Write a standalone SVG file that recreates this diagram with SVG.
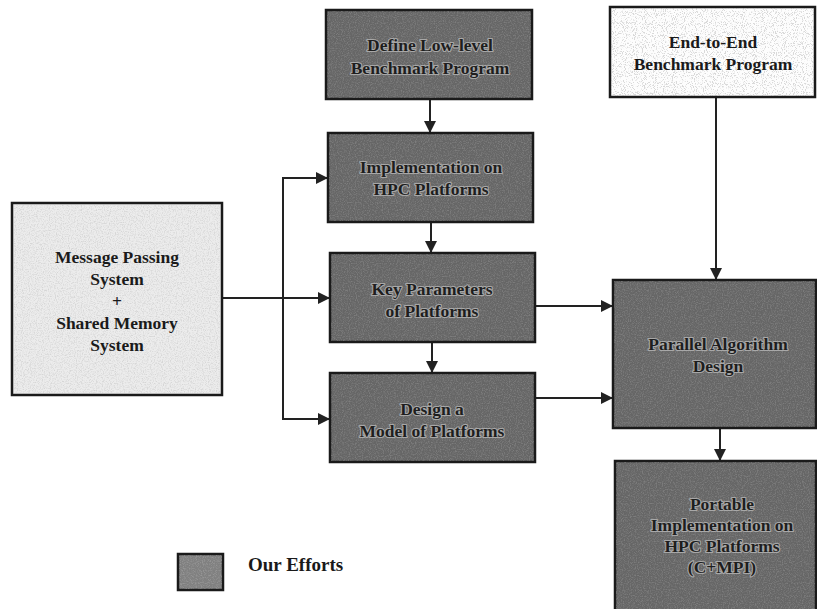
<svg xmlns="http://www.w3.org/2000/svg" width="817" height="609" viewBox="0 0 817 609">
  <style>
    .box { stroke: #1a1a1a; stroke-width: 2.5; }
    .dark { fill: #666; }
    .light { fill: #ececec; }
    .white { fill: #fdfdfd; }
    .grain { filter: url(#grain); }
    .lbl { font-family: "Liberation Serif", "Times New Roman", serif; font-weight: bold; font-size: 17.5px; text-anchor: middle; }
    .onDark { fill: #1e1e1e; stroke: #a8a8a8; stroke-width: 2.2; paint-order: stroke; stroke-linejoin: round; }
    .onLight { fill: #1a1a1a; }
    .wire { fill: none; stroke: #222; stroke-width: 2; }
  </style>
  <defs>
    <!-- mottled grain for the shaded boxes -->
    <filter id="grain" x="0" y="0" width="100%" height="100%">
      <feTurbulence type="fractalNoise" baseFrequency="0.85" numOctaves="2" seed="4" result="n"/>
      <feColorMatrix in="n" type="matrix" values="0 0 0 0 0  0 0 0 0 0  0 0 0 0 0  0 0 0 -3 1.7" result="a"/>
      <feComposite in="SourceGraphic" in2="a" operator="in"/>
    </filter>
    <!-- sparse specks for the plain box -->
    <filter id="speck" x="0" y="0" width="100%" height="100%">
      <feTurbulence type="fractalNoise" baseFrequency="1.1" numOctaves="1" seed="9" result="n"/>
      <feColorMatrix in="n" type="matrix" values="0 0 0 0 0  0 0 0 0 0  0 0 0 0 0  0 0 0 -9 4.2" result="a"/>
      <feComposite in="SourceGraphic" in2="a" operator="in"/>
    </filter>
    <marker id="arrow" viewBox="0 0 12 12" refX="11" refY="6" markerWidth="12" markerHeight="12" markerUnits="userSpaceOnUse" orient="auto">
      <path d="M0,0 L12,6 L0,12 Z" fill="#222"/>
    </marker>
  </defs>

  <!-- connectors -->
  <g id="connectors">
    <line class="wire" x1="430" y1="99" x2="430" y2="132" marker-end="url(#arrow)"/>
    <line class="wire" x1="431" y1="222" x2="431" y2="252" marker-end="url(#arrow)"/>
    <line class="wire" x1="432" y1="342" x2="432" y2="372" marker-end="url(#arrow)"/>
    <line class="wire" x1="223" y1="298" x2="329" y2="298" marker-end="url(#arrow)"/>
    <path class="wire" d="M283,178 L283,419 L329,419" marker-end="url(#arrow)"/>
    <line class="wire" x1="282" y1="178" x2="327" y2="178" marker-end="url(#arrow)"/>
    <line class="wire" x1="535" y1="306" x2="612" y2="306" marker-end="url(#arrow)"/>
    <line class="wire" x1="535" y1="398" x2="612" y2="398" marker-end="url(#arrow)"/>
    <line class="wire" x1="716" y1="97" x2="716" y2="279" marker-end="url(#arrow)"/>
    <line class="wire" x1="720" y1="428" x2="720" y2="460" marker-end="url(#arrow)"/>
  </g>

  <!-- Define Low-level Benchmark Program -->
  <g id="define-benchmark">
    <rect class="box dark" x="326" y="10" width="206" height="89"/>
    <rect class="grain" x="327" y="11" width="204" height="87" fill="#9a9a9a" opacity="0.45"/>
    <text class="lbl onDark" x="430" y="51">Define Low-level</text>
    <text class="lbl onDark" x="430" y="74">Benchmark Program</text>
  </g>

  <!-- Implementation on HPC Platforms -->
  <g id="implementation">
    <rect class="box dark" x="328" y="133" width="205" height="89"/>
    <rect class="grain" x="329" y="134" width="203" height="87" fill="#9a9a9a" opacity="0.45"/>
    <text class="lbl onDark" x="431" y="173">Implementation on</text>
    <text class="lbl onDark" x="431" y="195">HPC Platforms</text>
  </g>

  <!-- Key Parameters of Platforms -->
  <g id="key-parameters">
    <rect class="box dark" x="330" y="253" width="205" height="89"/>
    <rect class="grain" x="331" y="254" width="203" height="87" fill="#9a9a9a" opacity="0.45"/>
    <text class="lbl onDark" x="432" y="295">Key Parameters</text>
    <text class="lbl onDark" x="432" y="317">of Platforms</text>
  </g>

  <!-- Design a Model of Platforms -->
  <g id="design-model">
    <rect class="box dark" x="330" y="373" width="205" height="89"/>
    <rect class="grain" x="331" y="374" width="203" height="87" fill="#9a9a9a" opacity="0.45"/>
    <text class="lbl onDark" x="432" y="415">Design a</text>
    <text class="lbl onDark" x="432" y="437">Model of Platforms</text>
  </g>

  <!-- Message Passing + Shared Memory -->
  <g id="systems">
    <rect class="box light" x="12" y="203" width="210" height="192"/>
    <rect class="grain" x="13" y="204" width="208" height="190" fill="#b0b0b0" opacity="0.35"/>
    <text class="lbl onLight" x="117" y="263">Message Passing</text>
    <text class="lbl onLight" x="117" y="285">System</text>
    <text class="lbl onLight" x="117" y="307">+</text>
    <text class="lbl onLight" x="117" y="329">Shared Memory</text>
    <text class="lbl onLight" x="117" y="351">System</text>
  </g>

  <!-- End-to-End Benchmark Program -->
  <g id="end-to-end">
    <rect class="box white" x="610" y="7" width="205" height="90"/>
    <rect x="611" y="8" width="203" height="88" fill="#888" filter="url(#speck)" opacity="0.3"/>
    <text class="lbl onLight" x="713" y="48">End-to-End</text>
    <text class="lbl onLight" x="713" y="70">Benchmark Program</text>
  </g>

  <!-- Parallel Algorithm Design -->
  <g id="parallel-design">
    <rect class="box dark" x="613" y="280" width="203" height="148"/>
    <rect class="grain" x="614" y="281" width="201" height="146" fill="#9a9a9a" opacity="0.45"/>
    <text class="lbl onDark" x="718" y="350">Parallel Algorithm</text>
    <text class="lbl onDark" x="718" y="372">Design</text>
  </g>

  <!-- Portable Implementation -->
  <g id="portable">
    <rect class="box dark" x="615" y="461" width="201" height="150"/>
    <rect class="grain" x="616" y="462" width="199" height="147" fill="#9a9a9a" opacity="0.45"/>
    <text class="lbl onDark" x="722" y="510">Portable</text>
    <text class="lbl onDark" x="722" y="531">Implementation on</text>
    <text class="lbl onDark" x="722" y="552">HPC Platforms</text>
    <text class="lbl onDark" x="722" y="573">(C+MPI)</text>
  </g>

  <!-- legend -->
  <g id="legend">
    <rect class="box dark" x="178" y="554" width="45" height="36" style="fill:#808080"/>
    <rect class="grain" x="179" y="555" width="43" height="34" fill="#b0b0b0" opacity="0.45"/>
    <text class="lbl onLight" x="248" y="571" style="text-anchor:start;font-size:19px">Our Efforts</text>
  </g>
</svg>
